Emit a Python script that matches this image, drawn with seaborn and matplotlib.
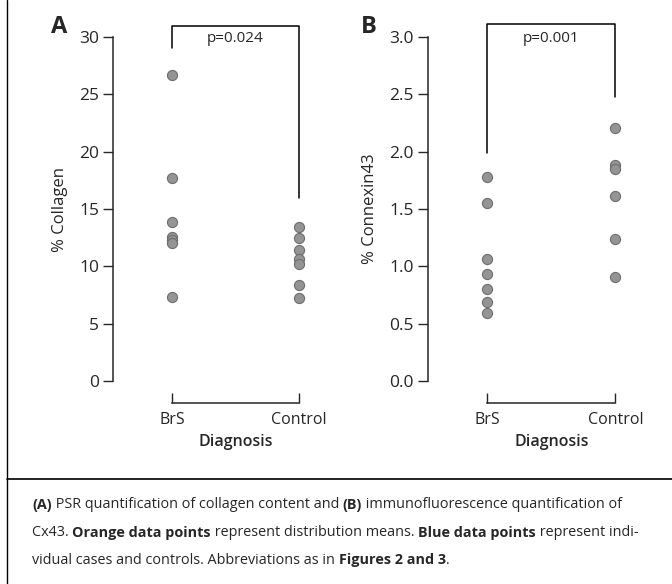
import numpy as np
import pandas as pd
import seaborn as sns
import matplotlib.pyplot as plt
from matplotlib.lines import Line2D

groups = ["BrS", "Control"]

collagen_brs = [26.7, 17.7, 13.9, 12.6, 12.3, 12.0, 7.3]
collagen_ctrl = [13.4, 12.5, 11.4, 10.6, 10.2, 8.4, 7.2]

cx43_brs = [1.78, 1.55, 1.06, 0.93, 0.80, 0.69, 0.59]
cx43_ctrl = [2.21, 1.88, 1.85, 1.61, 1.24, 0.91]

p_values = ["p=0.024", "p=0.001"]
y_labels = ["% Collagen", "% Connexin43"]
panel_letters = ["A", "B"]

sns.set_style("white")
plt.rcParams["font.family"] = ["Open Sans", "DejaVu Sans"]

W, H = 672, 584
fig = plt.figure(figsize=(W / 100, H / 100), dpi=100)


def px_axes(left, right, top, bottom):
    return fig.add_axes([left / W, 1 - bottom / H, (right - left) / W, (bottom - top) / H])


def make_panel(ax, brs, ctrl, xlim, ylim, yticks, fmt, bracket, ptext, ylab):
    df = pd.DataFrame({
        "Diagnosis": ["BrS"] * len(brs) + ["Control"] * len(ctrl),
        "value": brs + ctrl,
    })
    sns.stripplot(data=df, x="Diagnosis", y="value", order=groups, jitter=False,
                  color="#949494", edgecolor="#6e6e6e", linewidth=0.8, size=7.3,
                  ax=ax, clip_on=False)
    ax.set_xlim(*xlim)
    ax.set_ylim(*ylim)
    ax.set_yticks(yticks)
    ax.set_yticklabels([fmt.format(t) for t in yticks], fontsize=12.5)
    ax.set_xlabel("Diagnosis", fontsize=11.5, fontweight="semibold")
    # centre the axis title under the two groups
    ax.xaxis.set_label_coords((0.5 - xlim[0]) / (xlim[1] - xlim[0]), -0.153)
    ax.set_ylabel(ylab, fontsize=12, labelpad=8)
    ax.tick_params(axis="y", direction="out", length=7, width=1, pad=3, left=True)
    ax.tick_params(axis="x", direction="in", length=7, width=1, pad=6, bottom=True, labelsize=11.5)
    for s in ["top", "right"]:
        ax.spines[s].set_visible(False)
    ax.spines["left"].set_linewidth(1.1)
    ax.spines["bottom"].set_linewidth(1.1)
    ax.spines["bottom"].set_position(("outward", 16))
    ax.spines["bottom"].set_bounds(0, 1)
    top, lft, rgt = bracket
    ax.plot([0, 0, 1, 1], [lft, top, top, rgt], color="black", lw=1.1, clip_on=False)
    ax.text(0.5, (ylim[1] - ylim[0]) * 0.997 + ylim[0], ptext, ha="center", va="center",
            fontsize=11)


# panel A
axA = px_axes(113, 330, 37, 381)
make_panel(axA, collagen_brs, collagen_ctrl, (-0.465, 1.244), (0, 30),
           [0, 5, 10, 15, 20, 25, 30], "{:.0f}",
           (31.0, 29.0, 15.95), p_values[0], y_labels[0])

# panel B
axB = px_axes(428, 650, 37, 381)
make_panel(axB, cx43_brs, cx43_ctrl, (-0.46, 1.27), (0, 3),
           [0, 0.5, 1, 1.5, 2, 2.5, 3], "{:.1f}",
           (3.11, 1.99, 2.48), p_values[1], y_labels[1])

fig.text(51 / W, 1 - 27 / H, panel_letters[0], fontsize=17, fontweight="bold", va="center", ha="left")
fig.text(361 / W, 1 - 27 / H, panel_letters[1], fontsize=17, fontweight="bold", va="center", ha="left")

# frame lines
fig.add_artist(Line2D([7 / W, 7 / W], [0, 1], color="black", lw=1, transform=fig.transFigure))
fig.add_artist(Line2D([7 / W, 1], [1 - 479 / H, 1 - 479 / H], color="black", lw=1.2,
                      transform=fig.transFigure))

# caption with mixed bold text
caption = [
    [("(A)", True), (" PSR quantification of collagen content and ", False), ("(B)", True),
     (" immunofluorescence quantification of", False)],
    [("Cx43. ", False), ("Orange data points", True), (" represent distribution means. ", False),
     ("Blue data points", True), (" represent indi-", False)],
    [("vidual cases and controls. Abbreviations as in ", False), ("Figures 2 and 3", True),
     (".", False)],
]
line_y = [505, 533, 560]
fig.canvas.draw()
renderer = fig.canvas.get_renderer()
for parts, yy in zip(caption, line_y):
    x = 32
    for txt, bold in parts:
        t = fig.text(x / W, 1 - yy / H, txt, fontsize=10.4, va="center", ha="left",
                     fontweight="bold" if bold else "normal")
        bb = t.get_window_extent(renderer=renderer)
        x += bb.width

fig.savefig("out.png", dpi=100)
